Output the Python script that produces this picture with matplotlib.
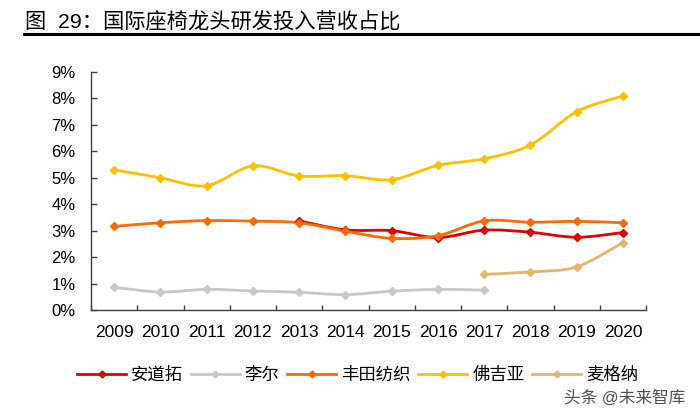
import numpy as np
import matplotlib.pyplot as plt
from matplotlib.path import Path
from matplotlib.patches import PathPatch
from matplotlib.lines import Line2D
from matplotlib.ticker import FuncFormatter, MultipleLocator

plt.rcParams['font.family'] = ['Liberation Sans', 'Noto Sans CJK SC', 'DejaVu Sans']

OUT_FILE = "out.png"

YEARS = ["2009", "2010", "2011", "2012", "2013", "2014", "2015", "2016",
         "2017", "2018", "2019", "2020"]

# values in %, None = no data
ADIENT = [None, None, None, None, 3.37, 3.03, 3.00, 2.74, 3.02, 2.94, 2.75, 2.93]
LEAR = [0.86, 0.68, 0.78, 0.72, 0.67, 0.58, 0.71, 0.78, 0.75, None, None, None]
TOYOTA_BOSHOKU = [3.16, 3.30, 3.38, 3.36, 3.30, 2.98, 2.71, 2.81, 3.37, 3.32, 3.35, 3.30]
FAURECIA = [5.30, 5.00, 4.70, 5.45, 5.07, 5.08, 4.93, 5.47, 5.72, 6.24, 7.50, 8.10]
MAGNA = [None, None, None, None, None, None, None, None, 1.35, 1.44, 1.63, 2.55]

SERIES = [
    ("安道拓", ADIENT, "#E00000"),
    ("李尔", LEAR, "#C8C8C8"),
    ("丰田纺织", TOYOTA_BOSHOKU, "#FF6A00"),
    ("佛吉亚", FAURECIA, "#FFC000"),
    ("麦格纳", MAGNA, "#E0B870"),
]


def smooth_path(xs, ys):
    # excel-like smoothed line as cubic bezier segments
    pts = np.column_stack([xs, ys]).astype(float)
    verts = [pts[0]]
    codes = [Path.MOVETO]
    n = len(pts)
    for i in range(n - 1):
        p0 = pts[max(i - 1, 0)]
        p1 = pts[i]
        p2 = pts[i + 1]
        p3 = pts[min(i + 2, n - 1)]
        c1 = p1 + (p2 - p0) / 6.0
        c2 = p2 - (p3 - p1) / 6.0
        verts += [c1, c2, p2]
        codes += [Path.CURVE4] * 3
    return Path(verts, codes)


def main():
    fig = plt.figure(figsize=(7.0, 4.18), dpi=100)
    ax = fig.add_axes([0.13, 0.2584, 0.793, 0.5694])

    x_all = np.arange(len(YEARS))
    handles = []
    for name, vals, color in SERIES:
        xs = [x for x, v in zip(x_all, vals) if v is not None]
        ys = [v for v in vals if v is not None]
        patch = PathPatch(smooth_path(xs, ys), facecolor="none", edgecolor=color,
                          linewidth=2.0, capstyle="round", joinstyle="round", zorder=2)
        ax.add_patch(patch)
        ax.plot(xs, ys, linestyle="None", marker="D", markersize=4.5,
                color=color, zorder=3)
        handles.append(Line2D([], [], color=color, linewidth=2.0, marker="D",
                              markersize=3.5, label=name))

    ax.set_xlim(-0.5, len(YEARS) - 0.5)
    ax.set_ylim(0, 9)
    ax.yaxis.set_major_locator(MultipleLocator(1))
    ax.yaxis.set_major_formatter(FuncFormatter(lambda v, p: f"{v:.0f}%"))
    ax.set_xticks(x_all)
    ax.set_xticklabels(YEARS)
    ax.set_xticks(np.arange(-0.5, len(YEARS), 1.0), minor=True)
    ax.tick_params(axis="x", which="major", length=0, pad=11, labelsize=12.5)
    ax.tick_params(axis="x", which="minor", length=3.5, width=1, color="#404040",
                   direction="in")
    ax.tick_params(axis="y", which="major", length=4.5, width=1, color="#404040",
                   direction="in", labelsize=12, pad=11)

    for s in ["top", "right"]:
        ax.spines[s].set_visible(False)
    for s in ["left", "bottom"]:
        ax.spines[s].set_color("#404040")
        ax.spines[s].set_linewidth(1.0)

    fig.legend(handles=handles, loc="center", bbox_to_anchor=(0.511, 0.103),
               ncol=5, frameon=False, fontsize=12.5, handlelength=2.8,
               handletextpad=0.3, columnspacing=0.45, borderpad=0.2)

    fig.text(0.036, 0.95, "图  29：国际座椅龙头研发投入营收占比", fontsize=15.3,
             ha="left", va="center", color="#000000")
    fig.add_artist(Line2D([0.034, 1.0], [0.9187, 0.9187], transform=fig.transFigure,
                          color="#000000", linewidth=2.2))

    fig.text(0.979, 0.05, "头条 @未来智库", fontsize=12, ha="right",
             va="center", color="#505050")

    plt.savefig(OUT_FILE, dpi=100)


if __name__ == "__main__":
    main()
